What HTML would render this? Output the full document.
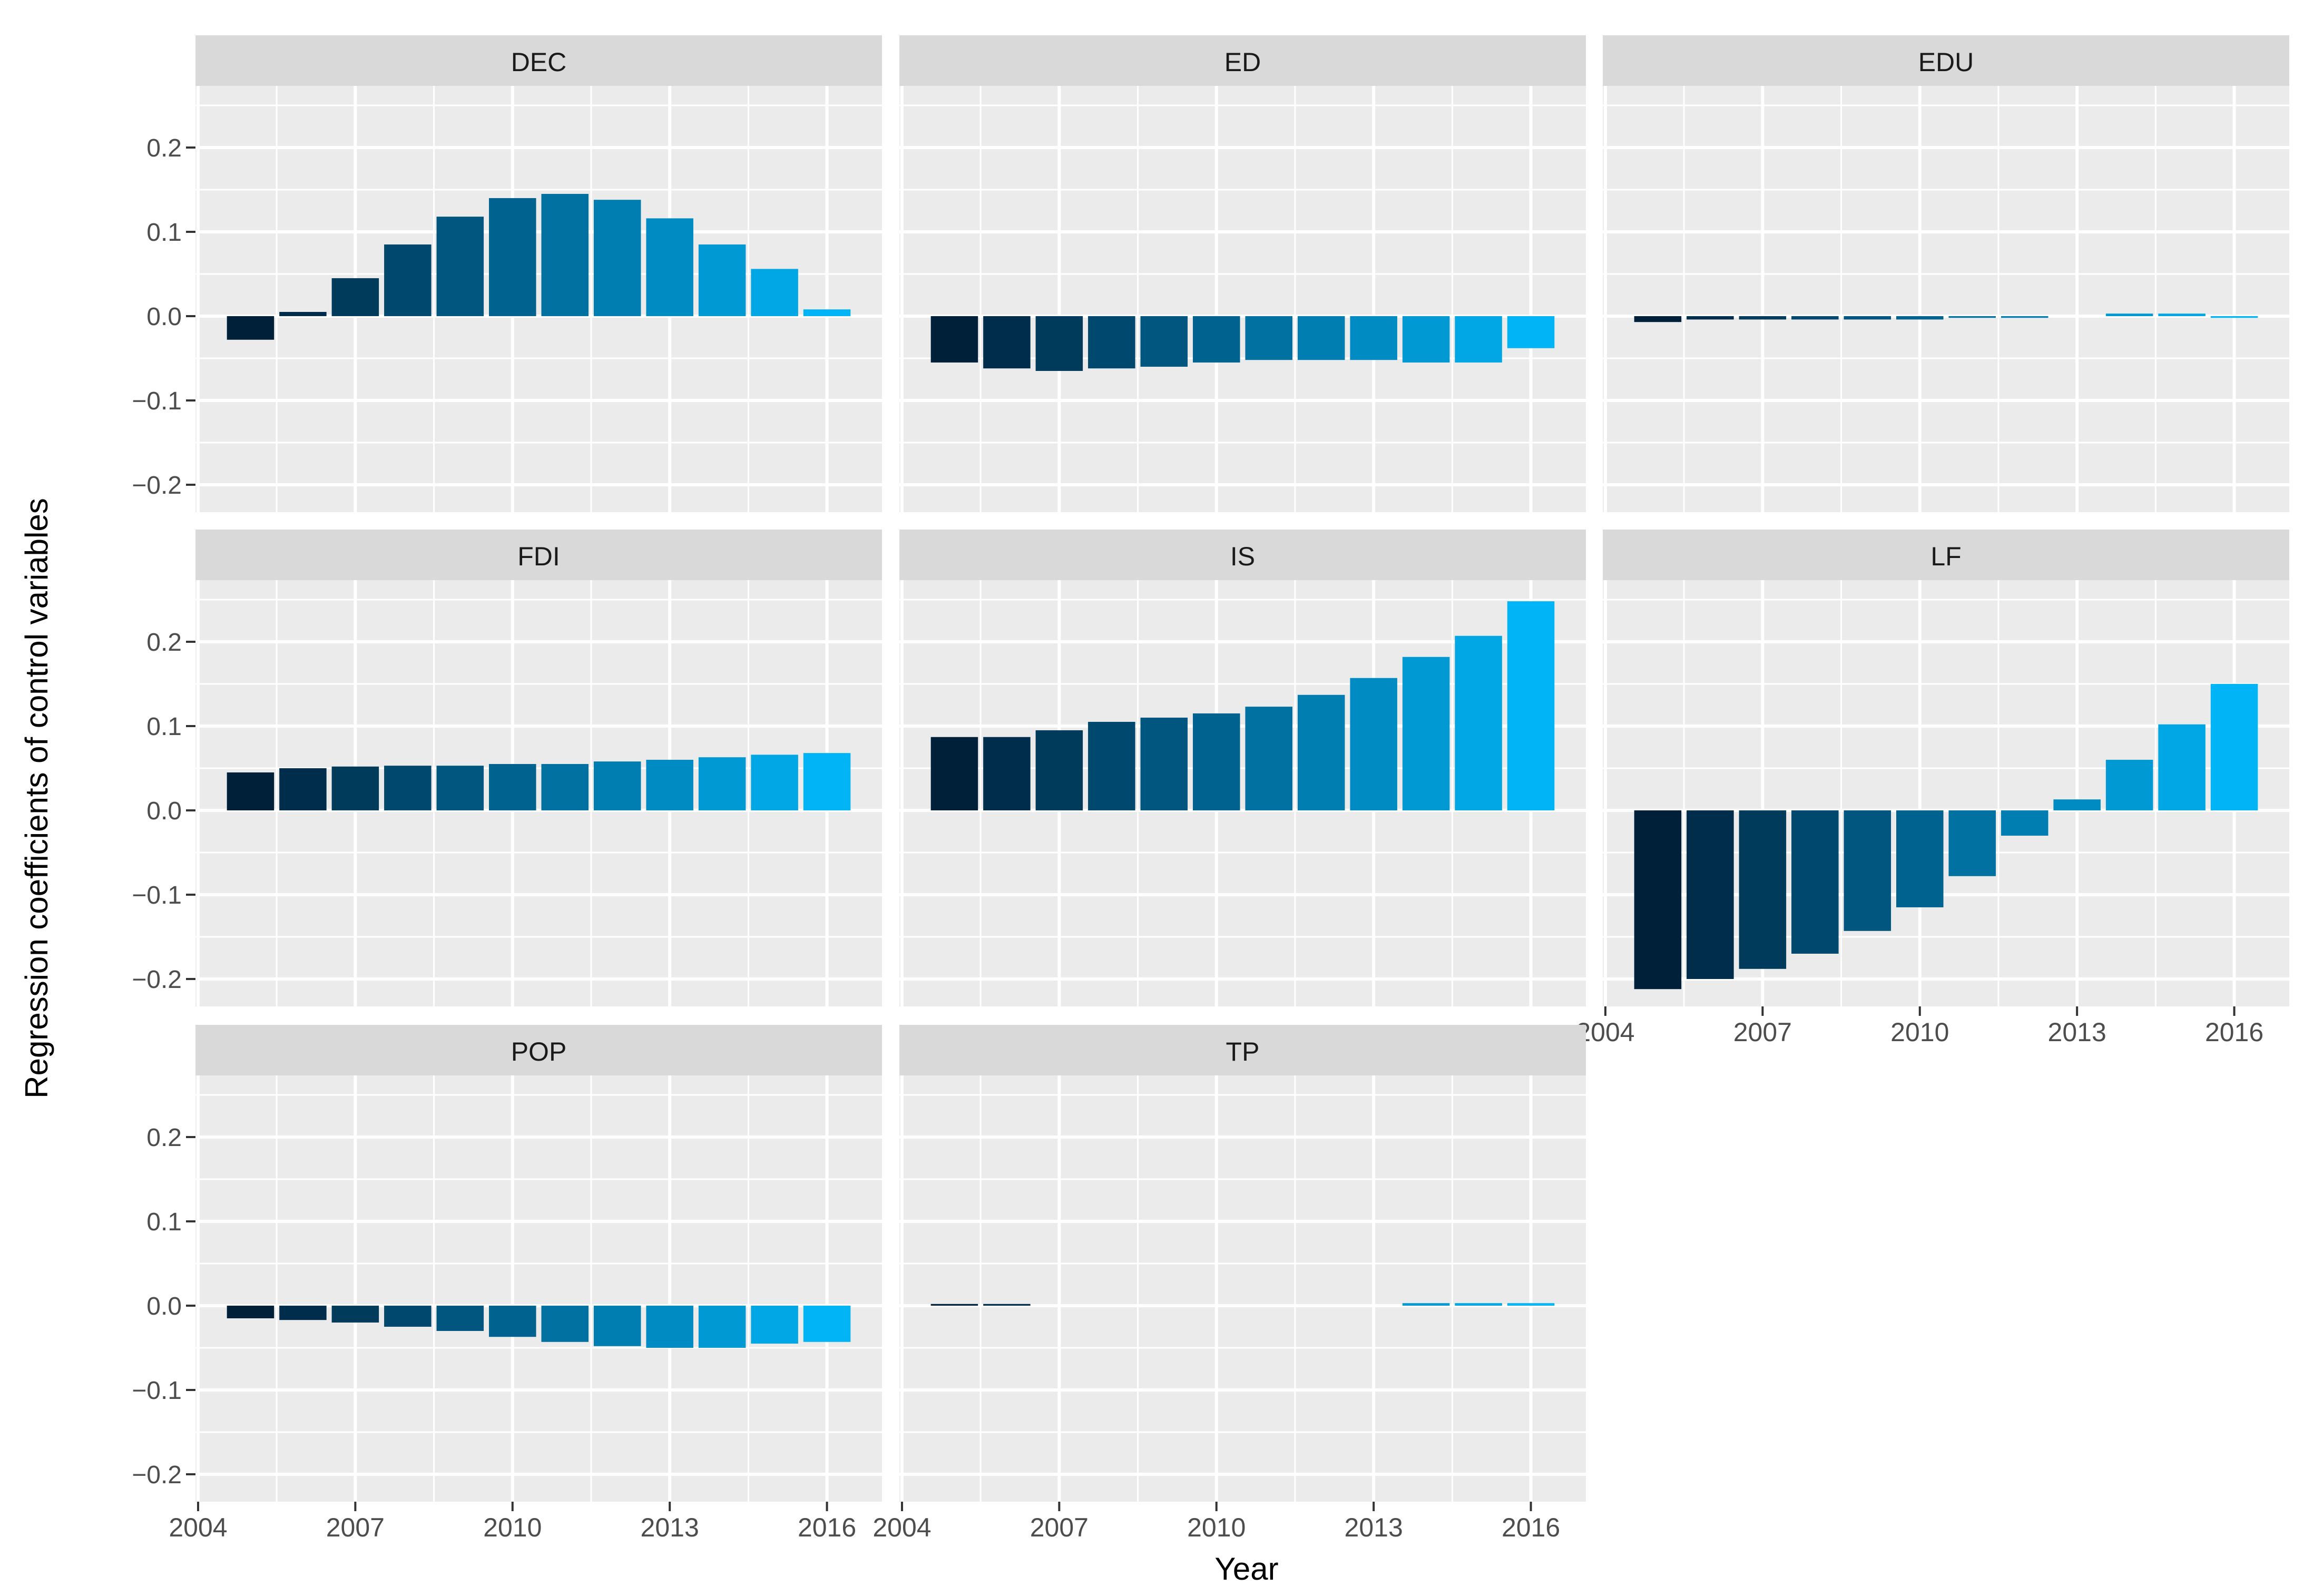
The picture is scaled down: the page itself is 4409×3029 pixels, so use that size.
<!DOCTYPE html>
<html><head><meta charset="utf-8"><style>
html,body{margin:0;padding:0;background:#fff;}
svg{display:block;font-family:"Liberation Sans",sans-serif;}
</style></head><body>
<svg id="chart" width="4409" height="3029" viewBox="0 0 4409 3029" xmlns="http://www.w3.org/2000/svg">
<text x="0" y="0" transform="translate(90,1515) rotate(-90)" text-anchor="middle" font-size="60" fill="#000">Regression coefficients of control variables</text>
<text x="2366" y="2998" text-anchor="middle" font-size="60" fill="#000">Year</text>
</svg>
<script>
const years = [2005,2006,2007,2008,2009,2010,2011,2012,2013,2014,2015,2016];
const panelNames = ["DEC","ED","EDU","FDI","IS","LF","POP","TP"];
const DEC = [-0.028,0.005,0.045,0.085,0.118,0.140,0.145,0.138,0.116,0.085,0.056,0.008];
const ED  = [-0.055,-0.062,-0.065,-0.062,-0.060,-0.055,-0.052,-0.052,-0.052,-0.055,-0.055,-0.038];
const EDU = [-0.007,-0.004,-0.004,-0.004,-0.004,-0.004,-0.002,-0.002,null,0.003,0.003,-0.002];
const FDI = [0.045,0.050,0.052,0.053,0.053,0.055,0.055,0.058,0.060,0.063,0.066,0.068];
const IS  = [0.087,0.087,0.095,0.105,0.110,0.115,0.123,0.137,0.157,0.182,0.207,0.248];
const LF  = [-0.212,-0.200,-0.188,-0.170,-0.143,-0.115,-0.078,-0.030,0.013,0.060,0.102,0.150];
const POP = [-0.015,-0.017,-0.020,-0.025,-0.030,-0.037,-0.043,-0.048,-0.050,-0.050,-0.045,-0.043];
const TP  = [0.002,0.002,null,null,null,null,null,null,null,0.003,0.003,0.003];
const yTicks = [-0.2,-0.1,0.0,0.1,0.2];
const yTickLabels = ["\u22120.2","\u22120.1","0.0","0.1","0.2"];
const xTicks = [2004,2007,2010,2013,2016];

const series = {DEC,ED,EDU,FDI,IS,LF,POP,TP};
const NS="http://www.w3.org/2000/svg";
const svg=document.getElementById('chart');
function mk(tag,attrs,parent){const e=document.createElementNS(NS,tag);for(const k in attrs)e.setAttribute(k,attrs[k]);(parent||svg).appendChild(e);return e;}

const colLeft=[371,1707,3042], W=1303;
const rowTop=[67,1005,1945], stripH=96, PH=809;
const xmin=2003.95,xmax=2017.05,ymin=-0.2325,ymax=0.2731;
const c0=[0,0x20,0x3a], c1=[0,0xb4,0xf5];
function col(i){const t=i/11;return 'rgb('+c0.map((v,k)=>Math.round(v+(c1[k]-v)*t)).join(',')+')';}

panelNames.forEach((name,pi)=>{
  const r=Math.floor(pi/3), c=pi%3;
  const L=colLeft[c], T=rowTop[r]+stripH;
  const xs=v=>L+(v-xmin)/(xmax-xmin)*W;
  const ys=v=>T+(ymax-v)/(ymax-ymin)*PH;
  const g=mk('g',{});
  
  
  const strip=mk('rect',{x:L,y:rowTop[r],width:W,height:stripH,fill:'#d9d9d9'},g);
  
  
  const st=mk('text',{x:L+W/2,y:rowTop[r]+68,'text-anchor':'middle','font-size':'50',fill:'#1a1a1a'},g);
  st.textContent=name;
  
  
  const bg=mk('rect',{x:L,y:T,width:W,height:PH,fill:'#ebebeb'},g);
  
  
  for(let v=-0.25;v<=0.26;v+=0.1){const y=ys(v);if(y>T&&y<T+PH)mk('line',{x1:L,x2:L+W,y1:y,y2:y,stroke:'#fff','stroke-width':3},g);}
  for(let v=2005.5;v<2017;v+=3){mk('line',{x1:xs(v),x2:xs(v),y1:T,y2:T+PH,stroke:'#fff','stroke-width':3},g);}
  yTicks.forEach(v=>mk('line',{x1:L,x2:L+W,y1:ys(v),y2:ys(v),stroke:'#fff','stroke-width':6},g));
  xTicks.forEach(v=>mk('line',{x1:xs(v),x2:xs(v),y1:T,y2:T+PH,stroke:'#fff','stroke-width':6},g));
  series[name].forEach((v,i)=>{
    if(v===null)return;
    const x0=xs(years[i]-0.45),x1=xs(years[i]+0.45);
    const ya=ys(Math.max(v,0)),yb=ys(Math.min(v,0));
    const b=mk('rect',{x:x0,y:ya,width:x1-x0,height:Math.max(yb-ya,3),fill:col(i)},g);
    
    
  });
  if(c===0){
    yTicks.forEach((v,k)=>{
      mk('line',{x1:L-18,x2:L,y1:ys(v),y2:ys(v),stroke:'#333','stroke-width':4},g);
      const t=mk('text',{x:L-26,y:ys(v)+17,'text-anchor':'end','font-size':'48',fill:'#4d4d4d'},g);
      t.textContent=yTickLabels[k];
      
      
    });
  }
  if(r===2||(r===1&&c===2)){
    xTicks.forEach(v=>{
      mk('line',{x1:xs(v),x2:xs(v),y1:T+PH,y2:T+PH+18,stroke:'#333','stroke-width':4},g);
      const t=mk('text',{x:xs(v),y:T+PH+66,'text-anchor':'middle','font-size':'50',fill:'#4d4d4d'},g);
      t.textContent=v;
      
      
    });
  }
});
</script>
</body></html>
